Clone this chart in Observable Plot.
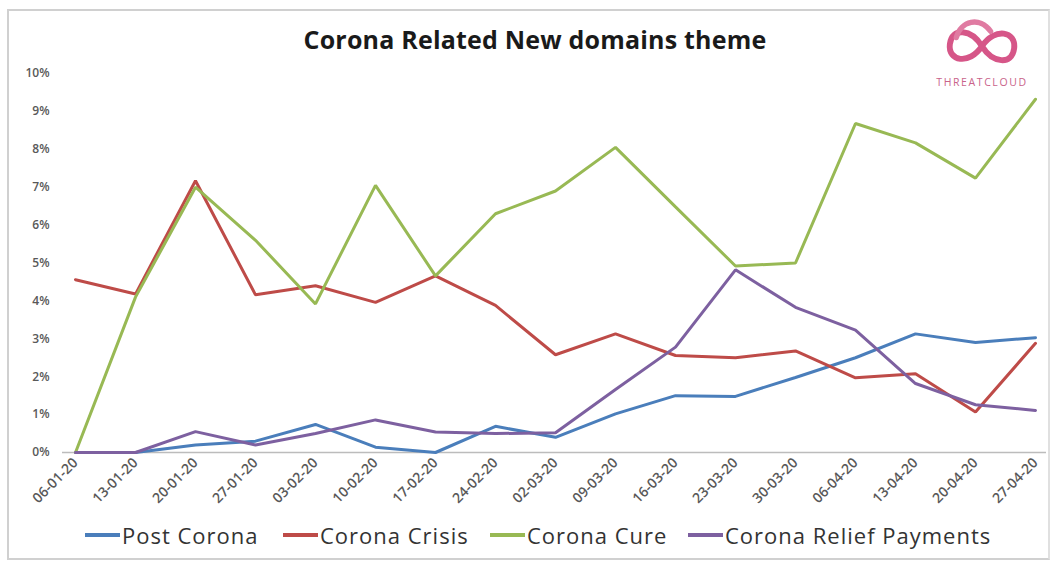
<!DOCTYPE html>
<html>
<head>
<meta charset="utf-8">
<script src="https://cdn.jsdelivr.net/npm/d3@7"></script>
<script src="https://cdn.jsdelivr.net/npm/@observablehq/plot@0.6"></script>
<style>
  html, body { margin: 0; padding: 0; background: #fff; }
  #wrap { position: relative; width: 1053px; height: 563px; overflow: hidden; font-family: "Open Sans", sans-serif; }
  #frame { position: absolute; left: 7px; top: 9px; width: 1043px; height: 551px; border: 2px solid #d0d0d0; border-right-color: #e0e0e0; box-sizing: border-box; pointer-events: none; }
  #title { position: absolute; left: 0; width: 1070px; top: 22px; text-align: center; font-weight: 700; font-size: 25px; color: #1a1a1a; letter-spacing: 0.2px; }
  #chart { position: absolute; left: 0; top: 60px; }
  #legend { position: absolute; top: 520px; left: 0; width: 1053px; height: 32px; font-size: 22px; letter-spacing: 1px; color: #333; }
  .item { position: absolute; top: 0; display: flex; align-items: center; }
  .sw { width: 35px; height: 3.5px; margin-right: 2px; }
  #logo { position: absolute; left: 926px; top: 14px; width: 112px; text-align: center; }
  #logo .txt { font-size: 10.5px; color: #c9638a; letter-spacing: 1.6px; margin-top: -2px; }
</style>
</head>
<body>
<div id="wrap">
  <div id="title">Corona Related New domains theme</div>
  <div id="logo">
    <svg width="90" height="58" viewBox="0 0 84 54">
      <path d="M42 30 C32 14, 14 12, 12 28 C10 44, 30 48, 42 30 C54 12, 74 16, 72 32 C70 48, 52 46, 42 30" fill="none" stroke="#d65688" stroke-width="5.5" stroke-linecap="round"/>
      <path d="M18 22 C22 6, 40 2, 50 16" fill="none" stroke="#e07ba2" stroke-width="5" stroke-linecap="round"/>
    </svg>
    <div class="txt">THREATCLOUD</div>
  </div>
  <div id="chart"></div>
  <div id="legend"></div>
  <div id="frame"></div>
</div>
<script>
const dates = ["06-01-20","13-01-20","20-01-20","27-01-20","03-02-20","10-02-20","17-02-20","24-02-20","02-03-20","09-03-20","16-03-20","23-03-20","30-03-20","06-04-20","13-04-20","20-04-20","27-04-20"];
const seriesNames = ["Post Corona", "Corona Crisis", "Corona Cure", "Corona Relief Payments"];
const seriesColors = ["#4a7ebb", "#be4b48", "#98b954", "#7d60a0"];
const postCorona   = [0, 0, 0.2, 0.3, 0.74, 0.14, 0, 0.69, 0.4, 1.02, 1.5, 1.48, 1.98, 2.5, 3.13, 2.9, 3.03];
const coronaCrisis = [4.56, 4.18, 7.17, 4.16, 4.4, 3.96, 4.66, 3.88, 2.58, 3.13, 2.56, 2.5, 2.68, 1.97, 2.08, 1.07, 2.88];
const coronaCure   = [0, 4.1, 7.0, 5.6, 3.92, 7.05, 4.66, 6.3, 6.9, 8.05, 6.48, 4.92, 5.0, 8.68, 8.17, 7.24, 9.32];
const coronaRelief = [0, 0, 0.55, 0.2, 0.5, 0.86, 0.54, 0.5, 0.52, 1.66, 2.78, 4.82, 3.83, 3.23, 1.82, 1.26, 1.11];
const yTicks = [0,1,2,3,4,5,6,7,8,9,10];

const allSeries = [postCorona, coronaCrisis, coronaCure, coronaRelief];
const rows = [];
allSeries.forEach((vals, si) => vals.forEach((v, i) => rows.push({date: dates[i], value: v / 100, series: seriesNames[si]})));

const tickStyle = {fill: "#595959", fontWeight: 600, fontFamily: "'Open Sans', sans-serif"};

const plot = Plot.plot({
  width: 1053,
  height: 460,
  marginLeft: 70,
  marginRight: 13,
  marginTop: 13,
  marginBottom: 68,
  style: {fontFamily: "'Open Sans', sans-serif", color: "#595959", background: "transparent"},
  x: {type: "point", domain: dates, padding: 0},
  y: {domain: [0, 0.1]},
  color: {domain: seriesNames, range: seriesColors},
  marks: [
    Plot.ruleY(yTicks.slice(1).map(t => t / 100), {x1: dates[0], x2: dates[dates.length - 1], stroke: "#e4e4e4", strokeWidth: 1, insetLeft: -8}),
    Plot.ruleY([0], {stroke: "#bcbcbc", strokeWidth: 1.5, insetLeft: -8, insetRight: -6}),
    Plot.axisY(yTicks.map(t => t / 100), {tickFormat: d3.format(".0%"), label: null, tickSize: 0, tickPadding: 21, fontSize: 12, letterSpacing: 0.4, ...tickStyle}),
    Plot.axisX({label: null, tickSize: 0, tickRotate: -45, tickPadding: 8, fontSize: 14, letterSpacing: 0.5, ...tickStyle}),
    Plot.line(rows, {x: "date", y: "value", z: "series", stroke: "series", strokeWidth: 3, strokeLinejoin: "miter", curve: "linear"})
  ]
});
document.getElementById("chart").appendChild(plot);

const legendX = [85, 283, 490, 688];
const legend = document.getElementById("legend");
seriesNames.forEach((name, i) => {
  const item = document.createElement("div");
  item.className = "item";
  item.style.left = legendX[i] + "px";
  const sw = document.createElement("div");
  sw.className = "sw";
  sw.style.background = seriesColors[i];
  const label = document.createElement("span");
  label.textContent = name;
  item.appendChild(sw);
  item.appendChild(label);
  legend.appendChild(item);
});
</script>
</body>
</html>
